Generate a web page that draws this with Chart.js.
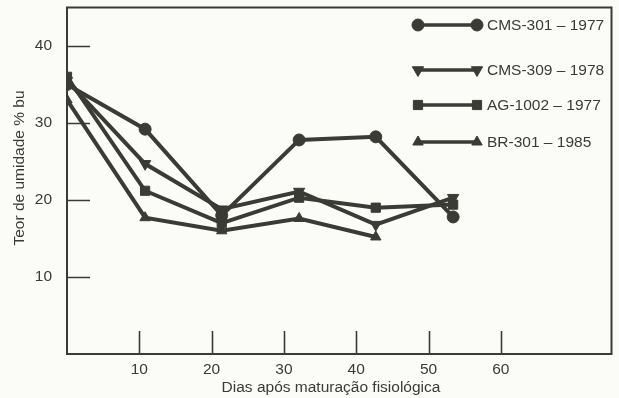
<!DOCTYPE html>
<html><head><meta charset="utf-8">
<script src="https://cdn.jsdelivr.net/npm/chart.js@4/dist/chart.umd.min.js"></script>
<style>html,body{margin:0;padding:0;background:#fbfbf8}#wrap{width:619px;height:398px;position:relative}</style>
</head><body><div id="wrap"><canvas id="c" width="619" height="398"></canvas></div>
<script>
// Data
const dias   = [0, 10.8, 21.4, 32.1, 42.7, 53.4];
const cms301 = [35.0, 29.2, 18.0, 27.8, 28.2, 17.8];
const cms309 = [35.5, 24.7, 18.8, 21.1, 16.8, 20.3];
const ag1002 = [36.0, 21.2, 17.0, 20.3, 19.0, 19.4];
const br301  = [33.0, 17.7, 16.0, 17.6, 15.2, null];
const seriesNames = ['CMS-301 – 1977', 'CMS-309 – 1978', 'AG-1002 – 1977', 'BR-301 – 1985'];
const xTicks = [10, 20, 30, 40, 50, 60];
const yTicks = [10, 20, 30, 40];
const xTitle = 'Dias após maturação fisiológica';
const yTitle = 'Teor de umidade % bu';

const INK = '#3b3b36';
const FONT = '"Liberation Sans", Arial, Helvetica, sans-serif';
const styles = [
  {pointStyle: 'circle', radius: 6, rotation: 0},
  {pointStyle: 'triangle', radius: 6.5, rotation: 180},
  {pointStyle: 'rect', radius: 6.5, rotation: 0},
  {pointStyle: 'triangle', radius: 6, rotation: 0}
];
const allSeries = [cms301, cms309, ag1002, br301];

const datasets = allSeries.map((vals, i) => ({
  label: seriesNames[i],
  data: dias.map((d, j) => ({x: d, y: vals[j]})).filter(p => p.y !== null),
  borderColor: INK,
  backgroundColor: INK,
  borderWidth: 4,
  pointStyle: styles[i].pointStyle,
  pointRadius: styles[i].radius,
  pointRotation: styles[i].rotation,
  pointBorderWidth: 1,
  pointBackgroundColor: INK,
  pointBorderColor: INK,
  tension: 0
}));

const legendRows = [25, 70, 105, 142];

const decor = {
  id: 'decor',
  beforeDraw(chart) {
    const ctx = chart.ctx;
    ctx.save();
    ctx.fillStyle = '#fbfbf8';
    ctx.fillRect(0, 0, chart.width, chart.height);
    ctx.restore();
  },
  afterDatasetsDraw(chart) {
    const ctx = chart.ctx, a = chart.chartArea;
    const xs = chart.scales.x, ys = chart.scales.y;
    ctx.save();
    ctx.strokeStyle = INK;
    ctx.lineWidth = 2;
    ctx.strokeRect(a.left, a.top, a.right - a.left, a.bottom - a.top);
    // inward ticks
    ctx.beginPath();
    yTicks.forEach(v => {
      const y = Math.round(ys.getPixelForValue(v)) + 0.5;
      ctx.moveTo(a.left, y); ctx.lineTo(a.left + 23, y);
    });
    xTicks.forEach(v => {
      const x = Math.round(xs.getPixelForValue(v)) + 0.5;
      ctx.moveTo(x, a.bottom); ctx.lineTo(x, a.bottom - 23);
    });
    ctx.lineWidth = 1.6;
    ctx.stroke();
    // titles
    ctx.fillStyle = INK;
    ctx.font = '15.5px ' + FONT;
    ctx.textAlign = 'center';
    ctx.textBaseline = 'middle';
    ctx.fillText(xTitle, 331, 388);
    ctx.save();
    ctx.translate(20, 168);
    ctx.rotate(-Math.PI / 2);
    ctx.fillText(yTitle, 0, 0);
    ctx.restore();
    // legend
    const x1 = 418, x2 = 477;
    ctx.font = '15.5px ' + FONT;
    ctx.textAlign = 'left';
    seriesNames.forEach((name, i) => {
      const y = legendRows[i];
      ctx.beginPath();
      ctx.moveTo(x1, y); ctx.lineTo(x2, y);
      ctx.lineWidth = 3.5;
      ctx.strokeStyle = INK;
      ctx.stroke();
      const opt = {pointStyle: styles[i].pointStyle, radius: styles[i].radius, rotation: styles[i].rotation, borderWidth: 1};
      ctx.fillStyle = INK;
      ctx.lineWidth = 1;
      Chart.helpers.drawPoint(ctx, opt, x1, y);
      Chart.helpers.drawPoint(ctx, opt, x2, y);
      ctx.fillStyle = INK;
      ctx.fillText(name, 487, y + 1);
    });
    ctx.restore();
  }
};

new Chart(document.getElementById('c'), {
  type: 'line',
  data: {datasets},
  options: {
    responsive: false,
    devicePixelRatio: 1,
    animation: false,
    layout: {padding: {top: 7, right: 5, left: 0, bottom: 0}},
    plugins: {legend: {display: false}, tooltip: {enabled: false}},
    scales: {
      x: {
        type: 'linear', min: 0, max: 75.3,
        afterBuildTicks: s => { s.ticks = xTicks.map(v => ({value: v})); },
        afterFit: s => { s.height = 44; s.paddingLeft = 0; s.paddingRight = 0; },
        grid: {display: true, drawOnChartArea: false, drawTicks: false},
        border: {display: false},
        ticks: {color: INK, font: {family: FONT, size: 15.5}, padding: 6, maxRotation: 0}
      },
      y: {
        type: 'linear', min: 0, max: 45,
        afterBuildTicks: s => { s.ticks = yTicks.map(v => ({value: v})); },
        afterFit: s => { s.width = 67; s.paddingTop = 0; s.paddingBottom = 0; },
        grid: {display: true, drawOnChartArea: false, drawTicks: false},
        border: {display: false},
        ticks: {color: INK, font: {family: FONT, size: 15.5}, padding: 15}
      }
    }
  },
  plugins: [decor]
});
</script></body></html>
